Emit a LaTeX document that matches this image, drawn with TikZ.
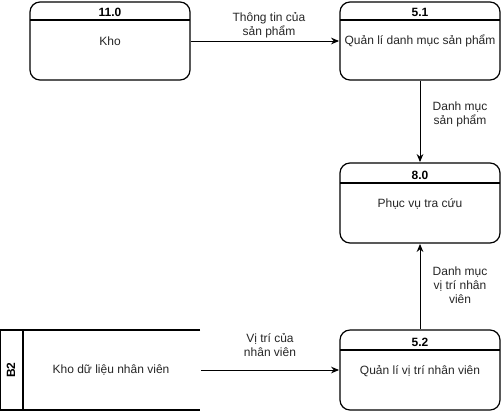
\documentclass[tikz,border=0pt]{standalone}
\usepackage{fontspec}
\setmainfont{Liberation Sans}
\usetikzlibrary{arrows.meta}
\begin{document}
\begin{tikzpicture}[x=0.75pt,y=-0.75pt,
  proc/.style={draw,line width=0.9pt,rounded corners=7.5pt},
  hdr/.style={line width=0.9pt},
  ttl/.style={font=\fontsize{9}{10}\selectfont\bfseries},
  txt/.style={font=\fontsize{9}{10.5}\selectfont,align=center,text=black!85},
  flow/.style={draw,line width=0.75pt,-{Stealth[length=6pt,width=5pt]}}]
\useasboundingbox (0,0) rectangle (502,411);
% Kho 11.0
\draw[proc] (30,2) rectangle (190,80);
\draw[hdr] (30,20) -- (190,20);
\node[ttl] (t110) at (110,12) {11.0};
\node[txt] (kho) at (110,41) {Kho};
\node[inner sep=0] (kR) at (190,41) {};
% 5.1
\draw[proc] (340,2) rectangle (500,80);
\draw[hdr] (340,20) -- (500,20);
\node[ttl] (t51) at (420,12) {5.1};
\node[txt] (q51) at (420,41) {Quản lí danh mục sản phẩm};
\node[inner sep=0] (a51L) at (340,41) {};
\node[inner sep=0] (a51B) at (420,80) {};
% 8.0
\draw[proc] (340,163) rectangle (500,243);
\draw[hdr] (340,183) -- (500,183);
\node[ttl] (t80) at (420,175) {8.0};
\node[txt] (p80) at (420,204) {Phục vụ tra cứu};
\node[inner sep=0] (a80T) at (420,163) {};
\node[inner sep=0] (a80B) at (420,243) {};
% 5.2
\draw[proc] (340,330) rectangle (500,410);
\draw[hdr] (340,350) -- (500,350);
\node[ttl] (t52) at (420,342) {5.2};
\node[txt] (q52) at (420,371) {Quản lí vị trí nhân viên};
\node[inner sep=0] (a52L) at (340,370) {};
\node[inner sep=0] (a52T) at (420,330) {};
% B2 data store
\draw[line width=0.9pt] (200,330) -- (0.5,330) -- (0.5,410) -- (200,410);
\draw[line width=0.9pt] (23,330) -- (23,410);
\node[ttl,rotate=90] (b2) at (11,370) {B2};
\node[txt] (kdl) at (111,370) {Kho dữ liệu nhân viên};
\node[inner sep=0] (bR) at (200,370) {};
% flows
\draw[flow] (kR) -- (a51L);
\node[txt] (l1) at (269,25) {Thông tin của\\sản phẩm};
\draw[flow] (a51B) -- (a80T);
\node[txt] (l2) at (460,114) {Danh mục\\sản phẩm};
\draw[flow] (a52T) -- (a80B);
\node[txt] (l3) at (460,285) {Danh mục\\vị trí nhân\\viên};
\draw[flow] (bR) -- (a52L);
\node[txt] (l4) at (270,345) {Vị trí của\\nhân viên};
\end{tikzpicture}
\end{document}
